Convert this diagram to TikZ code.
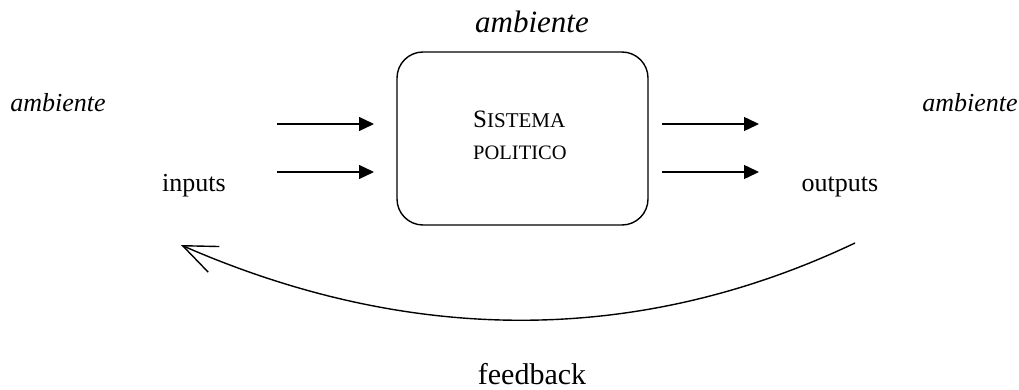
\documentclass[tikz,border=0pt]{standalone}
\usepackage{fontspec}
\setmainfont{Liberation Serif}
\usetikzlibrary{arrows.meta}
\tikzset{
  flow/.style={line width=1.4pt,-{Triangle[length=15pt,width=14pt]}},
  sysbox/.style={draw,line width=1.4pt,rounded corners=26pt},
  side/.style={font=\fontsize{26}{30}\selectfont\itshape,anchor=base},
  lbl/.style={font=\fontsize{26}{30}\selectfont,anchor=base},
  big/.style={font=\fontsize{30}{34}\selectfont,anchor=base},
}
\begin{document}
\begin{tikzpicture}[x=1pt,y=-1pt]
\useasboundingbox (0,0) rectangle (1019,390);
\draw[sysbox] (397,52) rectangle (648,225);
\node[anchor=base west,inner sep=0] (s1) at (473,128) {{\fontsize{25}{27}\selectfont S}{\fontsize{21}{23}\selectfont ISTEMA}};
\node[anchor=base west,inner sep=0] (s2) at (473,160) {\fontsize{20.5}{23}\selectfont POLITICO};
\node[big,font=\fontsize{31}{34}\selectfont\itshape] (atop) at (532,33) {ambiente};
\node[side] (aleft) at (58,112) {ambiente};
\node[side] (aright) at (970,112) {ambiente};
\node[lbl] (inp) at (194,192) {inputs};
\node[lbl] (outp) at (840,192) {outputs};
\node[big,font=\fontsize{30}{32}\selectfont] (fb) at (532,384) {feedback};
\coordinate (i1a) at (277,124); \coordinate (i1b) at (374,124);
\coordinate (i2a) at (277,172); \coordinate (i2b) at (374,172);
\coordinate (o1a) at (662,124); \coordinate (o1b) at (759,124);
\coordinate (o2a) at (662,172); \coordinate (o2b) at (759,172);
\draw[flow] (i1a) -- (i1b);
\draw[flow] (i2a) -- (i2b);
\draw[flow] (o1a) -- (o1b);
\draw[flow] (o2a) -- (o2b);
\coordinate (fbs) at (855,243);
\coordinate (fbe) at (181,245);
\draw[line width=1.4pt,-{Straight Barb[length=34pt,width=28pt,line width=1.4pt]}] (fbs) .. controls (640,345) and (412,346) .. (fbe);
\end{tikzpicture}
\end{document}
